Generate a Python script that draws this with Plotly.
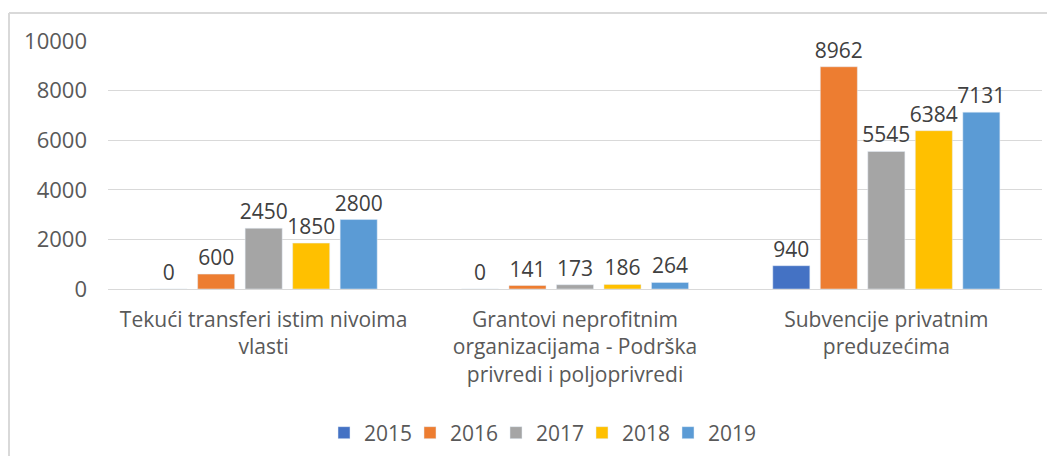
import plotly.graph_objects as go

categories = [
    "Tekući transferi istim nivoima<br>vlasti",
    "Grantovi neprofitnim<br>organizacijama - Podrška<br>privredi i poljoprivredi",
    "Subvencije privatnim<br>preduzećima",
]
years = ["2015", "2016", "2017", "2018", "2019"]
values_2015 = [0, 0, 940]
values_2016 = [600, 141, 8962]
values_2017 = [2450, 173, 5545]
values_2018 = [1850, 186, 6384]
values_2019 = [2800, 264, 7131]
series = [values_2015, values_2016, values_2017, values_2018, values_2019]
colors = ["#4472C4", "#ED7D31", "#A5A5A5", "#FFC000", "#5B9BD5"]

FONT = "Open Sans, Calibri, Carlito, sans-serif"

fig = go.Figure()
for name, vals, col in zip(years, series, colors):
    fig.add_trace(go.Bar(
        name=name, x=categories, y=vals, marker_color=col,
        text=[str(v) for v in vals], textposition="outside",
        textfont=dict(family=FONT, size=21, color="#404040"),
        constraintext="none", cliponaxis=False,
    ))
# invisible spacer legend entry so the last legend label is not clipped
fig.add_trace(go.Scatter(name=" ", x=[categories[0]], y=[None], mode="markers",
                         marker=dict(color="rgba(0,0,0,0)", size=1),
                         showlegend=True, hoverinfo="skip"))

# page body has an 8px margin; the figure is placed at (8, 8) in the window
OFF = 8
W, H = 1055 - OFF, 464 - 2 * OFF
L, R, T, B = 108 - OFF, 13, 41 - OFF, 175 - OFF
pw, ph = W - L - R, H - T - B

def px_x(p):
    return (p - OFF - L) / pw

def px_y(p):
    return (H - B - (p - OFF)) / ph

border = dict(color="#D9D9D9", width=2)
fig.update_layout(
    width=W, height=H,
    margin=dict(l=L, r=R, t=T, b=B, autoexpand=False),
    paper_bgcolor="white", plot_bgcolor="white",
    barmode="group", bargap=0.237, bargroupgap=0.22,
    font=dict(family=FONT, color="#595959"),
    yaxis=dict(range=[0, 10000], dtick=2000, tickformat="d", showgrid=True, gridcolor="#D9D9D9",
               gridwidth=1, zeroline=True, zerolinecolor="#D9D9D9", zerolinewidth=1,
               showline=False, tickfont=dict(family=FONT, size=22, color="#595959"),
               ticks="", ticklabelstandoff=20, automargin=False),
    xaxis=dict(showline=False, ticks="", tickfont=dict(family=FONT, size=21, color="#595959"),
               ticklabelstandoff=16, automargin=False),
    legend=dict(orientation="h", x=px_x(324), xanchor="left", y=px_y(433), yanchor="middle",
                font=dict(family=FONT, size=21, color="#595959"), traceorder="normal",
                itemwidth=30, entrywidth=41, entrywidthmode="pixels"),
    shapes=[
        dict(type="line", xref="paper", yref="paper", x0=px_x(9), x1=px_x(1070),
             y0=px_y(13), y1=px_y(13), line=border, layer="below"),
        dict(type="line", xref="paper", yref="paper", x0=px_x(9), x1=px_x(9),
             y0=px_y(13), y1=px_y(480), line=border, layer="below"),
    ],
)

fig.write_html("out.html")
